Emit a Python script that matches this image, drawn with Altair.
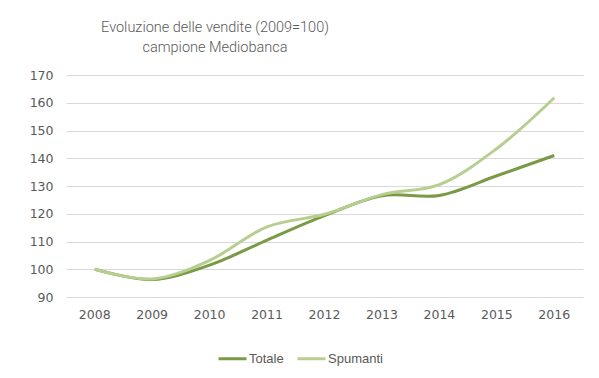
import altair as alt
import pandas as pd

years = ["2008", "2009", "2010", "2011", "2012", "2013", "2014", "2015", "2016"]
totale = [100, 96.3, 101.5, 110.5, 119.3, 126.5, 126.6, 133.7, 141]
spumanti = [100, 96.5, 103.2, 115.3, 119.8, 126.9, 130.5, 143.5, 161.8]
series_names = ["Totale", "Spumanti"]
colors = ["#7A9A45", "#B8CE91"]

rows = []
for name, vals in zip(series_names, [totale, spumanti]):
    for y, v in zip(years, vals):
        rows.append({"Anno": y, "Valore": v, "Serie": name})
df = pd.DataFrame(rows)

chart = alt.Chart(df).mark_line(interpolate="catmull-rom", strokeWidth=3).encode(
    x=alt.X("Anno:N", sort=years, title=None,
            scale=alt.Scale(type="band", paddingInner=0, paddingOuter=0),
            axis=alt.Axis(labelAngle=0, domain=False, ticks=False, labelPadding=11,
                          labelFont="DejaVu Sans", labelFontSize=12.5, labelColor="#595959")),
    y=alt.Y("Valore:Q", title=None,
            scale=alt.Scale(domain=[90, 170], nice=False, zero=False),
            axis=alt.Axis(values=[90, 100, 110, 120, 130, 140, 150, 160, 170],
                          domain=False, ticks=False, labelPadding=13,
                          labelFont="DejaVu Sans", labelFontSize=12.5, labelColor="#595959",
                          gridColor="#D9D9D9", gridWidth=1)),
    color=alt.Color("Serie:N", sort=series_names,
                    scale=alt.Scale(domain=series_names, range=colors),
                    legend=alt.Legend(title=None, orient="none", direction="horizontal",
                                      legendX=151, legendY=268,
                                      symbolType="stroke", symbolStrokeWidth=3, symbolSize=784,
                                      labelFont="Liberation Sans", labelFontSize=13,
                                      labelColor="#595959", labelOffset=1, columnPadding=7)),
    order=alt.Order("Serie:N", sort="descending"),
).properties(
    width=517,
    height=222,
    title=alt.TitleParams(
        text=["Evoluzione delle vendite (2009=100)", "campione Mediobanca"],
        anchor="start", align="center", dx=149, frame="group",
        font="Roboto", fontSize=14.5, fontWeight=300,
        color="#595959", lineHeight=20, offset=14,
    ),
    autosize=alt.AutoSizeParams(type="none"),
    padding={"left": 58, "top": 67, "right": 8, "bottom": 80},
).configure_view(stroke=None)

chart.save("out.html", embed_options={"renderer": "svg", "actions": False})
